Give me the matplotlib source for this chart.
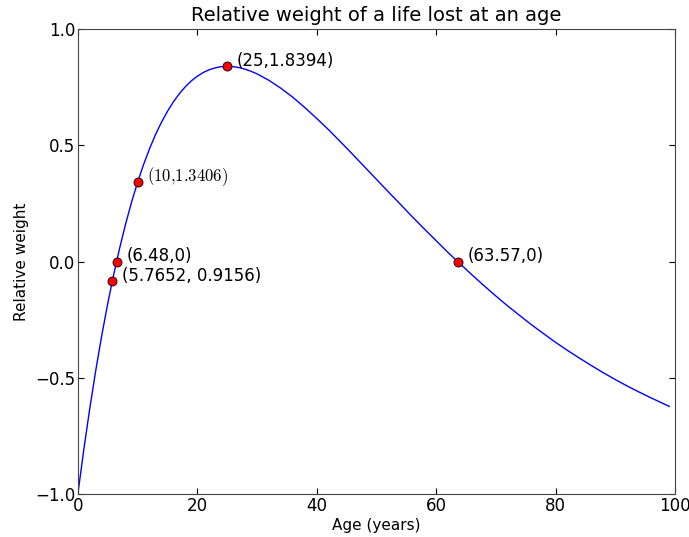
import matplotlib
matplotlib.use("Agg")
import matplotlib.pyplot as plt

# curve values (relative weight vs age)
ages = [0, 1, 2, 3, 4, 5, 6, 7, 8, 9, 10, 11, 12, 13, 14, 15, 16, 17, 18, 19,
        20, 21, 22, 23, 24, 25, 26, 27, 28, 29, 30, 32, 34, 36, 38, 40, 42, 44,
        46, 48, 50, 52, 54, 56, 58, 60, 62, 64, 66, 68, 70, 72, 74, 76, 78, 80,
        82, 84, 86, 88, 90, 92, 94, 96, 98, 99]
weights = [-1.000, -0.808, -0.631, -0.468, -0.318, -0.181, -0.056, 0.058,
           0.162, 0.256, 0.341, 0.417, 0.485, 0.546, 0.599, 0.646, 0.687,
           0.722, 0.752, 0.777, 0.797, 0.813, 0.825, 0.833, 0.838, 0.839,
           0.838, 0.834, 0.827, 0.818, 0.807, 0.779, 0.745, 0.706, 0.662,
           0.615, 0.566, 0.514, 0.461, 0.407, 0.353, 0.299, 0.246, 0.192,
           0.140, 0.089, 0.038, -0.010, -0.058, -0.104, -0.149, -0.192,
           -0.233, -0.273, -0.311, -0.348, -0.383, -0.416, -0.448, -0.479,
           -0.508, -0.536, -0.562, -0.587, -0.611, -0.623]

# marked points and their labels
pt_x = [25, 10, 6.48, 5.7652, 63.57]
pt_y = [0.8394, 0.3406, 0.0, -0.0844, 0.0]
pt_labels = ["(25,1.8394)", r"$(10{,}1.3406)$", "(6.48,0)", "(5.7652, 0.9156)", "(63.57,0)"]

plt.rcParams['mathtext.fontset'] = 'cm'
fig = plt.figure(figsize=(6.89, 5.37), dpi=100)
ax = fig.add_axes([0.113, 0.080, 0.867, 0.866])

ax.plot(ages, weights, color='b', lw=1.0)
ax.plot(pt_x, pt_y, 'o', color='r', mec='k', mew=0.6, ms=6.5)
for x, y, s in zip(pt_x, pt_y, pt_labels):
    ax.annotate(s, (x, y), xytext=(7, 4), textcoords='offset points',
                va='center', ha='left', fontsize=12)

ax.set_xlim(0, 100)
ax.set_ylim(-1.0, 1.0)
ax.set_xticks([0, 20, 40, 60, 80, 100])
ax.set_yticks([-1.0, -0.5, 0.0, 0.5, 1.0])
ax.tick_params(direction='in', top=True, right=True, length=4, labelsize=12, pad=2)
for sp in ax.spines.values():
    sp.set_color('#444444')
ax.set_title("Relative weight of a life lost at an age", fontsize=14)
ax.set_xlabel("Age (years)", fontsize=11, labelpad=2)
ax.set_ylabel("Relative weight", fontsize=11)

fig.savefig("out.png", dpi=100)
